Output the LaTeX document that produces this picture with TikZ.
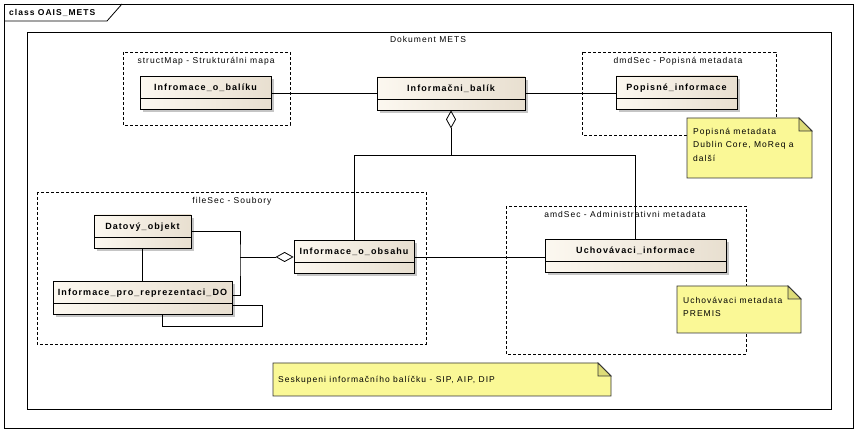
\documentclass[tikz,border=0pt]{standalone}
\usepackage{fontspec}
\setmainfont{Liberation Sans}[LetterSpace=12]
\usepackage{xcolor}
\usetikzlibrary{arrows.meta, shadows}
\definecolor{clsleft}{RGB}{252,248,240}
\definecolor{clsright}{RGB}{232,223,208}
\definecolor{notefill}{RGB}{250,248,150}
\definecolor{notefold}{RGB}{222,220,120}
\tikzstyle{cls} = [rectangle, draw=black, line width=0.8pt, left color=clsleft, right color=clsright, drop shadow={shadow xshift=3pt, shadow yshift=-3pt, fill=black!45, opacity=0.5}, font=\fontsize{9}{11}\selectfont\bfseries, text height=7pt, text depth=11.6pt, inner ysep=7.2pt, inner xsep=0pt, path picture={\draw[line width=0.8pt] ([yshift=-22pt]path picture bounding box.north west) -- ([yshift=-22pt]path picture bounding box.north east);}]
\tikzstyle{pkg} = [line width=0.8pt, dash pattern=on 3pt off 2pt]
\tikzstyle{pkgtitle} = [font=\fontsize{8.5}{10}\selectfont, inner sep=0pt]
\tikzstyle{note} = [draw=black!80, line width=0.8pt, fill=notefill]
\tikzstyle{notetext} = [font=\fontsize{8.5}{13.5}\selectfont, align=left, inner sep=0pt]
\tikzstyle{line} = [line width=0.8pt]
\tikzstyle{agg} = [line width=0.8pt, -{Diamond[open, length=18pt, width=10pt, line width=0.8pt]}]

\begin{document}
\begin{tikzpicture}[x=1pt, y=-1pt]
    \useasboundingbox (0,0) rectangle (860,435);

    % frames
    \draw[line] (4,4) rectangle (853,428);
    \draw[line] (4,21) -- (107,21) -- (122,4);
    \node[font=\fontsize{8.5}{10}\selectfont\bfseries, anchor=west, inner sep=0pt] (frametitle) at (9,12.5) {class OAIS\_METS};
    \draw[line] (27,32) rectangle (831,409);
    \node[pkgtitle] (doctitle) at (428,39) {Dokument METS};

    % packages
    \draw[pkg] (123,52) rectangle (290,125);
    \node[pkgtitle] (structtitle) at (206,61) {structMap - Strukturálni mapa};
    \draw[pkg] (582,52) rectangle (776,135);
    \node[pkgtitle] (dmdtitle) at (678,61) {dmdSec - Popisná metadata};
    \draw[pkg] (37,192) rectangle (426,344);
    \node[pkgtitle] (filetitle) at (232,201) {fileSec - Soubory};
    \draw[pkg] (506,206) rectangle (746,354);
    \node[pkgtitle] (amdtitle) at (625,214) {amdSec - Administrativni metadata};

    % notes
    \foreach \xa/\ya/\xb/\yb in {687/118/812/178, 677/286/801/333, 273/363/611/396} {
        \filldraw[note] (\xa,\ya) -- (\xb-13,\ya) -- (\xb,\ya+13) -- (\xb,\yb) -- (\xa,\yb) -- cycle;
        \filldraw[note, fill=notefold] (\xb-13,\ya) -- (\xb-13,\ya+13) -- (\xb,\ya+13) -- cycle;
    }
    \node[notetext, anchor=north west] (dmdnote) at (693,128) {Popisná metadata\\Dublin Core, MoReq a\\další};
    \node[notetext, anchor=north west] (amdnote) at (683,297) {Uchovávaci metadata\\PREMIS};
    \node[notetext, anchor=west] (grpnote) at (278,380) {Seskupeni informačního balíčku - SIP, AIP, DIP};

    % classes
    \node[cls, minimum width=131pt] (obalik) at (205.5,93) {Infromace\_o\_balíku};
    \node[cls, minimum width=148pt] (balik) at (451,93.5) {Informačni\_balík};
    \node[cls, minimum width=121pt] (popis) at (676.5,92.5) {Popisné\_informace};
    \node[cls, minimum width=97pt] (datovy) at (142.5,231.5) {Datový\_objekt};
    \node[cls, minimum width=179pt] (reprez) at (142.5,298) {Informace\_pro\_reprezentaci\_DO};
    \node[cls, minimum width=120pt] (obsah) at (354,257) {Informace\_o\_obsahu};
    \node[cls, minimum width=181pt] (uchov) at (635.5,256) {Uchovávaci\_informace};

    % connectors
    \coordinate (jt) at (451,155);
    \coordinate (fj) at (240,257);
    \draw[line] (obalik.east) -- (obalik.east -| balik.west);
    \draw[line] (balik.east) -- (balik.east -| popis.west);
    \draw[agg] (obsah.north) |- (jt) -- (balik.south);
    \draw[line] (uchov.north) |- (jt);
    \draw[line] (obsah.east) -- (obsah.east -| uchov.west);
    \draw[line] (datovy.south) -- (reprez.north);
    \draw[line] (datovy.east) -| (fj) |- ([yshift=3pt]reprez.east);
    \draw[agg] (fj) -- (obsah.west);
    \draw[line] ([yshift=-7pt]reprez.east) -- ++(30,0) -- ++(0,21) -| ([xshift=20pt]reprez.south);
\end{tikzpicture}
\end{document}
